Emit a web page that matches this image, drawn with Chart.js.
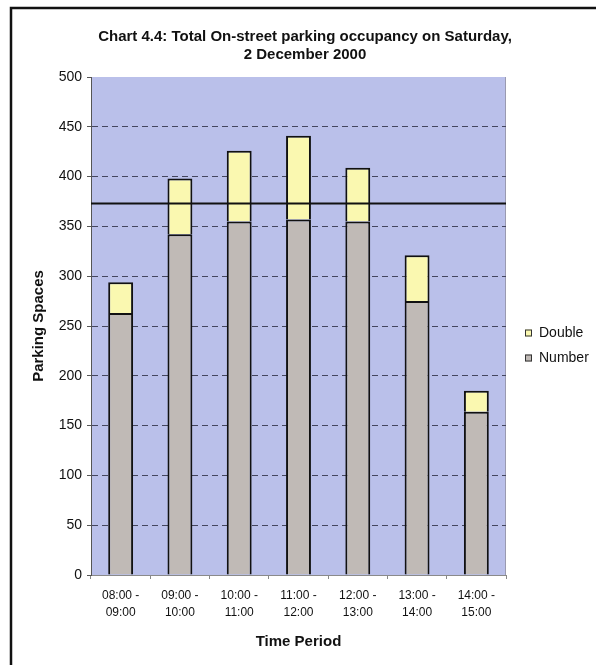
<!DOCTYPE html>
<html>
<head>
<meta charset="utf-8">
<title>Chart 4.4: Total On-street parking occupancy on Saturday, 2 December 2000</title>
<style>
  html, body { margin: 0; padding: 0; background: #ffffff; }
  #wrap { position: relative; width: 596px; height: 665px; }
  canvas { display: block; }
</style>
<script src="https://cdn.jsdelivr.net/npm/chart.js@4/dist/chart.umd.min.js"></script>
</head>
<body>
<div id="wrap"><canvas id="chart" width="596" height="665"></canvas></div>
<script>
// Time periods (two-line category labels)
const timePeriods = [
  ['08:00 -', '09:00'],
  ['09:00 -', '10:00'],
  ['10:00 -', '11:00'],
  ['11:00 -', '12:00'],
  ['12:00 -', '13:00'],
  ['13:00 -', '14:00'],
  ['14:00 -', '15:00']
];

// Parked vehicles per period
const numberParked = [263, 342, 355, 357, 355, 275, 164];
const doubleParked = [31, 56, 71, 84, 54, 46, 21];

// Available on-street spaces (reference line)
const capacity = 373;

// Value axis
const yMin = 0;
const yMax = 500;
const yStep = 50;

const FONT = 'Liberation Sans, Arial, Helvetica, sans-serif';
const PLOT_BG = '#bac0ea';
const NUMBER_FILL = '#c0bab6';
const DOUBLE_FILL = '#faf8b0';

// Fills the plotting area and draws its right edge
const plotBackground = {
  id: 'plotBackground',
  beforeDraw(chart) {
    const { ctx, chartArea: a } = chart;
    ctx.save();
    ctx.fillStyle = PLOT_BG;
    ctx.fillRect(a.left, a.top, a.right - a.left, a.bottom - a.top);
    ctx.strokeStyle = '#9a9ab0';
    ctx.lineWidth = 1;
    ctx.beginPath();
    ctx.moveTo(a.right - 0.5, a.top);
    ctx.lineTo(a.right - 0.5, a.bottom);
    ctx.stroke();
    ctx.restore();
  }
};

// Horizontal line at the number of available spaces
const capacityLine = {
  id: 'capacityLine',
  afterDatasetsDraw(chart) {
    const { ctx, chartArea: a, scales } = chart;
    const y = scales.y.getPixelForValue(capacity);
    ctx.save();
    ctx.strokeStyle = '#111111';
    ctx.lineWidth = 2;
    ctx.beginPath();
    ctx.moveTo(a.left, y);
    ctx.lineTo(a.right, y);
    ctx.stroke();
    ctx.restore();
  }
};

// Legend to the right of the plot, top series first
const sideLegend = {
  id: 'sideLegend',
  afterDraw(chart) {
    const { ctx, chartArea: a } = chart;
    const items = chart.data.datasets.slice().reverse();
    const boxX = a.right + 19;
    const firstY = 333;
    const rowGap = 25;
    ctx.save();
    ctx.font = '14px ' + FONT;
    ctx.textBaseline = 'middle';
    ctx.textAlign = 'left';
    items.forEach((ds, i) => {
      const cy = firstY + i * rowGap;
      ctx.fillStyle = ds.backgroundColor;
      ctx.fillRect(boxX, cy - 3.5, 7, 7);
      ctx.strokeStyle = '#333333';
      ctx.lineWidth = 1;
      ctx.strokeRect(boxX + 0.5, cy - 3.5 + 0.5, 6, 6);
      ctx.fillStyle = '#111111';
      ctx.fillText(ds.label, boxX + 14, cy);
    });
    ctx.restore();
  }
};

// Page frame lines along the top and left
const pageFrame = {
  id: 'pageFrame',
  afterDraw(chart) {
    const { ctx, width, height } = chart;
    ctx.save();
    ctx.strokeStyle = '#111111';
    ctx.lineWidth = 2.5;
    ctx.beginPath();
    ctx.moveTo(11, height);
    ctx.lineTo(11, 8);
    ctx.lineTo(width, 8);
    ctx.stroke();
    ctx.restore();
  }
};

new Chart(document.getElementById('chart'), {
  type: 'bar',
  data: {
    labels: timePeriods,
    datasets: [
      {
        label: 'Number',
        data: numberParked,
        backgroundColor: NUMBER_FILL,
        borderColor: '#111111',
        borderWidth: 2,
        barPercentage: 0.42,
        categoryPercentage: 1.0
      },
      {
        label: 'Double',
        data: doubleParked,
        backgroundColor: DOUBLE_FILL,
        borderColor: '#111111',
        borderWidth: 2,
        barPercentage: 0.42,
        categoryPercentage: 1.0
      }
    ]
  },
  options: {
    responsive: false,
    animation: false,
    devicePixelRatio: 1,
    layout: { padding: { left: 14, right: 0, top: 0, bottom: 0 } },
    plugins: {
      legend: { display: false },
      tooltip: { enabled: false },
      title: {
        display: true,
        text: ['Chart 4.4: Total On-street parking occupancy on Saturday,', '2 December 2000'],
        color: '#111111',
        font: { family: FONT, size: 15, weight: 'bold', lineHeight: '18px' },
        padding: { top: 28, bottom: 13 }
      }
    },
    scales: {
      x: {
        stacked: true,
        offset: true,
        grid: {
          display: true,
          offset: true,
          drawOnChartArea: false,
          drawTicks: true,
          tickLength: 4,
          tickColor: '#888888',
          color: '#888888'
        },
        border: { display: true, color: '#8a8a8a', width: 1 },
        ticks: {
          color: '#111111',
          font: { family: FONT, size: 12, lineHeight: '17px' },
          padding: 8,
          maxRotation: 0,
          autoSkip: false
        },
        title: {
          display: true,
          text: 'Time Period',
          color: '#111111',
          font: { family: FONT, size: 15, weight: 'bold', lineHeight: '18px' },
          padding: { top: 4, bottom: 14 }
        },
        afterFit(scale) { scale.height = 90; }
      },
      y: {
        stacked: true,
        min: yMin,
        max: yMax,
        position: 'left',
        grid: {
          display: true,
          drawOnChartArea: true,
          drawTicks: true,
          tickLength: 4,
          tickColor: '#555555',
          lineWidth: 1,
          color: (c) => (c.tick && (c.tick.value === yMin || c.tick.value === yMax)) ? 'rgba(0,0,0,0)' : '#44465f'
        },
        border: { display: true, color: '#555555', width: 1, dash: [6, 4] },
        ticks: {
          stepSize: yStep,
          color: '#111111',
          font: { family: FONT, size: 14 },
          padding: 5
        },
        title: {
          display: true,
          text: 'Parking Spaces',
          color: '#111111',
          font: { family: FONT, size: 15, weight: 'bold', lineHeight: '18px' },
          padding: { top: 16, bottom: 4 }
        },
        afterFit(scale) { scale.width = 77; }
      },
      legendSpace: {
        type: 'linear',
        position: 'right',
        display: true,
        grid: { display: false },
        border: { display: false },
        ticks: { display: false },
        afterFit(scale) { scale.width = 90; }
      }
    }
  },
  plugins: [plotBackground, capacityLine, sideLegend, pageFrame]
});
</script>
</body>
</html>
